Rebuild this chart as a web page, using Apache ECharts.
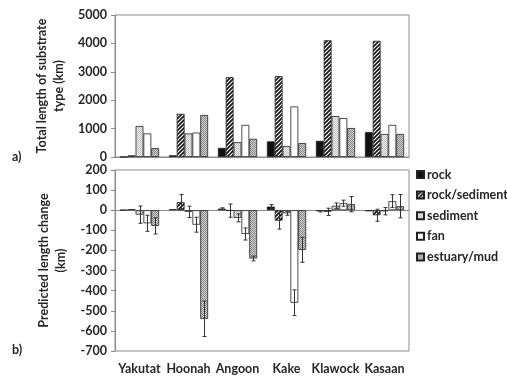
<!DOCTYPE html>
<html><head><meta charset="utf-8">
<script src="https://cdn.jsdelivr.net/npm/echarts@6/dist/echarts.min.js"></script>
<style>html,body{margin:0;padding:0;background:#fff}#c{width:507px;height:379px}</style>
</head><body><div id="c"></div>
<script>
const categories = ['Yakutat','Hoonah','Angoon','Kake','Klawock','Kasaan'];
const seriesNames = ['rock','rock/sediment','sediment','fan','estuary/mud'];
// a) total length of substrate type (km)
const totalRock     = [5, 60, 320, 550, 570, 880];
const totalRockSed  = [60, 1520, 2810, 2850, 4110, 4090];
const totalSediment = [1090, 830, 520, 380, 1440, 810];
const totalFan      = [830, 860, 1130, 1780, 1370, 1130];
const totalEstuary  = [310, 1480, 640, 490, 1020, 810];
// b) predicted length change (km)
const changeRock     = [1, 5, 8, 18, -5, -5];
const changeRockSed  = [5, 40, -2, -52, -8, -25];
const changeSediment = [-22, -8, -38, -15, 22, -5];
const changeFan      = [-65, -72, -118, -460, 35, 45];
const changeEstuary  = [-78, -540, -240, -197, 30, 20];
// b) error bar half-lengths (km)
const errRock     = [0, 0, 4, 10, 3, 0];
const errRockSed  = [0, 38, 33, 42, 18, 30];
const errSediment = [43, 28, 20, 10, 14, 18];
const errFan      = [40, 37, 30, 64, 15, 32];
const errEstuary  = [40, 88, 12, 62, 38, 58];
const yTopTicks = [0, 1000, 2000, 3000, 4000, 5000];
const yBottomTicks = [-700, -600, -500, -400, -300, -200, -100, 0, 100, 200];

function pat(w, h, draw) {
  const c = document.createElement('canvas'); c.width = w; c.height = h;
  const g = c.getContext('2d'); draw(g);
  return { image: c, repeat: 'repeat' };
}
const fills = [
  '#111111',
  pat(4, 4, g => { g.fillStyle = '#fff'; g.fillRect(0,0,4,4); g.strokeStyle = '#111'; g.lineWidth = 1.6;
    g.beginPath(); g.moveTo(0,4); g.lineTo(4,0); g.moveTo(-1,1); g.lineTo(1,-1); g.moveTo(3,5); g.lineTo(5,3); g.stroke(); }),
  pat(2, 2, g => { g.fillStyle = '#f0f0f0'; g.fillRect(0,0,2,2); g.fillStyle = '#c0c0c0'; g.fillRect(0,0,1,1); g.fillRect(1,1,1,1); }),
  '#ffffff',
  pat(2, 2, g => { g.fillStyle = '#d2d2d2'; g.fillRect(0,0,2,2); g.fillStyle = '#888'; g.fillRect(0,0,1,1); g.fillRect(1,1,1,1); })
];
const totals = [totalRock, totalRockSed, totalSediment, totalFan, totalEstuary];
const changes = [changeRock, changeRockSed, changeSediment, changeFan, changeEstuary];
const errs = [errRock, errRockSed, errSediment, errFan, errEstuary];

const FONT = 'Lato';
const TXT = '#262626';
const AX = '#8c8c8c';
const lbl = { fontFamily: FONT, fontWeight: 'bold', fontSize: 12.5, color: TXT };

const series = [];
seriesNames.forEach((n, i) => {
  const style = { color: fills[i], borderColor: '#222', borderWidth: 0.8 };
  series.push({ name: n, type: 'bar', xAxisIndex: 0, yAxisIndex: 0, data: totals[i],
    barGap: '0%', barCategoryGap: '20%', itemStyle: style, animation: false });
});
seriesNames.forEach((n, i) => {
  const style = { color: fills[i], borderColor: '#222', borderWidth: 0.8 };
  series.push({ name: n, type: 'bar', xAxisIndex: 1, yAxisIndex: 1, data: changes[i],
    barGap: '0%', barCategoryGap: '20%', itemStyle: style, animation: false });
});
seriesNames.forEach((n, k) => {
  const data = changes[k].map((v, j) => [j, v, errs[k][j]]).filter(d => d[2] > 0);
  series.push({ name: n, type: 'custom', xAxisIndex: 1, yAxisIndex: 1, z: 10, animation: false,
    data: data,
    renderItem: (params, api) => {
      const ci = api.value(0), v = api.value(1), e = api.value(2);
      const band = api.size([1, 0])[0];
      const bw = band * 0.8 / 5;
      const off = -band * 0.4 + bw * (k + 0.5);
      const t = api.coord([ci, v + e]), b = api.coord([ci, v - e]);
      const x = Math.round(t[0] + off) + 0.5;
      const st = { stroke: '#333', lineWidth: 1 };
      return { type: 'group', children: [
        { type: 'line', shape: { x1: x, y1: t[1], x2: x, y2: b[1] }, style: st },
        { type: 'line', shape: { x1: x - 2, y1: t[1], x2: x + 2, y2: t[1] }, style: st },
        { type: 'line', shape: { x1: x - 2, y1: b[1], x2: x + 2, y2: b[1] }, style: st }
      ]};
    }
  });
});

const chart = echarts.init(document.getElementById('c'), null, { renderer: 'canvas' });
chart.setOption({
  animation: false,
  textStyle: { fontFamily: FONT },
  grid: [
    { left: 115, top: 15, width: 294, height: 142, show: true, borderColor: AX, borderWidth: 1, backgroundColor: 'transparent' },
    { left: 115, top: 170, width: 294, height: 181, show: true, borderColor: AX, borderWidth: 1, backgroundColor: 'transparent' }
  ],
  legend: {
    orient: 'vertical', left: 411, top: 163, itemWidth: 7, itemHeight: 7, itemGap: 7.6,
    icon: 'rect', data: seriesNames, textStyle: Object.assign({}, lbl, { padding: [0,0,0,-2] }),
    selectedMode: false
  },
  xAxis: [
    { gridIndex: 0, type: 'category', data: categories,
      axisLine: { lineStyle: { color: AX } }, axisTick: { length: 6, lineStyle: { color: AX } },
      axisLabel: { show: false } },
    { gridIndex: 1, type: 'category', data: categories, position: 'bottom',
      axisLine: { show: false, onZero: false }, axisTick: { show: false },
      axisLabel: Object.assign({ margin: 11, interval: 0, hideOverlap: false }, lbl) },
    { gridIndex: 1, type: 'category', data: categories, position: 'top',
      axisLine: { onZero: true, lineStyle: { color: AX } },
      axisTick: { inside: true, length: 4, lineStyle: { color: AX } },
      axisLabel: { show: false } }
  ],
  yAxis: [
    { gridIndex: 0, type: 'value', min: yTopTicks[0], max: yTopTicks[yTopTicks.length - 1], interval: 1000,
      name: 'Total length of substrate\ntype (km)', nameLocation: 'middle', nameGap: 42,
      nameTextStyle: Object.assign({ lineHeight: 17 }, lbl),
      axisLine: { show: true, lineStyle: { color: AX } }, axisTick: { show: true, length: 4, lineStyle: { color: AX } },
      axisLabel: Object.assign({ margin: 8, formatter: v => String(v) }, lbl), splitLine: { show: false } },
    { gridIndex: 1, type: 'value', min: yBottomTicks[0], max: yBottomTicks[yBottomTicks.length - 1], interval: 100,
      name: 'Predicted length change\n(km)', nameLocation: 'middle', nameGap: 42,
      nameTextStyle: Object.assign({ lineHeight: 17 }, lbl),
      axisLine: { show: true, onZero: false, lineStyle: { color: AX } }, axisTick: { show: true, length: 4, lineStyle: { color: AX } },
      axisLabel: Object.assign({ margin: 8, formatter: v => String(v) }, lbl), splitLine: { show: false } }
  ],
  graphic: [
    { type: 'text', left: 12, top: 150, style: { text: 'a)', fill: TXT, font: 'bold 12.5px Lato' } },
    { type: 'text', left: 12, top: 343, style: { text: 'b)', fill: TXT, font: 'bold 12.5px Lato' } }
  ],
  series: series
});
</script>
</body></html>
